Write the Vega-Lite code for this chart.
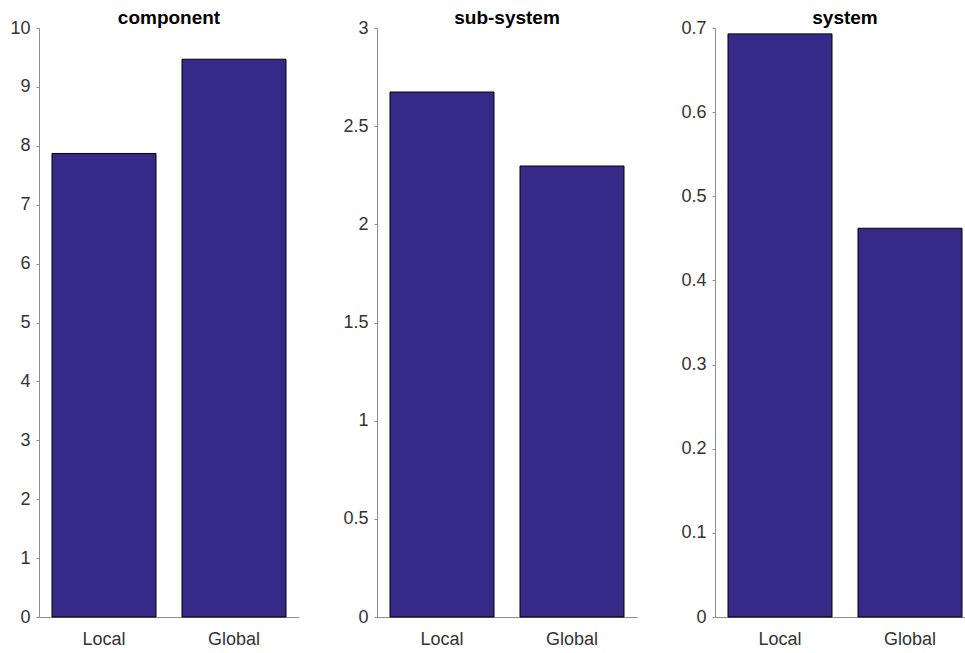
{
  "$schema": "https://vega.github.io/schema/vega-lite/v6.json",
  "padding": {"left": 9, "top": 9, "right": 0, "bottom": 5},
  "background": "white",
  "data": {"values": [
    {"panel": "component", "type": "Local", "value": 7.87},
    {"panel": "component", "type": "Global", "value": 9.47},
    {"panel": "sub-system", "type": "Local", "value": 2.674},
    {"panel": "sub-system", "type": "Global", "value": 2.297},
    {"panel": "system", "type": "Local", "value": 0.693},
    {"panel": "system", "type": "Global", "value": 0.462}
  ]},
  "bounds": "flush",
  "spacing": 78,
  "config": {
    "view": {"stroke": null},
    "font": "Liberation Sans",
    "title": {"fontSize": 19, "fontWeight": "bold", "color": "#000000", "frame": "group", "anchor": "middle", "offset": -9},
    "axis": {
      "grid": false,
      "domainColor": "#8c8c8c",
      "tickColor": "#8c8c8c",
      "tickSize": 3,
      "labelFont": "Liberation Sans",
      "labelFontSize": 18,
      "labelColor": "#333333",
      "title": null
    },
    "bar": {"fill": "#352a87", "stroke": "#000000", "strokeWidth": 1}
  },
  "hconcat": [
    {
      "title": "component",
      "width": 260, "height": 589,
      "transform": [{"filter": "datum.panel === 'component'"}],
      "mark": "bar",
      "encoding": {
        "x": {"field": "type", "type": "nominal", "sort": ["Local", "Global"], "scale": {"paddingInner": 0.2, "paddingOuter": 0.1}, "axis": {"labelAngle": 0, "labelPadding": 13, "ticks": false}},
        "y": {"field": "value", "type": "quantitative", "scale": {"domain": [0, 10], "nice": false}, "axis": {"values": [0,1,2,3,4,5,6,7,8,9,10], "labelExpr": "'' + datum.value", "labelPadding": 6}}
      }
    },
    {
      "title": "sub-system",
      "width": 260, "height": 589,
      "transform": [{"filter": "datum.panel === 'sub-system'"}],
      "mark": "bar",
      "encoding": {
        "x": {"field": "type", "type": "nominal", "sort": ["Local", "Global"], "scale": {"paddingInner": 0.2, "paddingOuter": 0.1}, "axis": {"labelAngle": 0, "labelPadding": 13, "ticks": false}},
        "y": {"field": "value", "type": "quantitative", "scale": {"domain": [0, 3], "nice": false}, "axis": {"values": [0,0.5,1,1.5,2,2.5,3], "labelExpr": "'' + datum.value", "labelPadding": 6}}
      }
    },
    {
      "title": "system",
      "width": 260, "height": 589,
      "transform": [{"filter": "datum.panel === 'system'"}],
      "mark": "bar",
      "encoding": {
        "x": {"field": "type", "type": "nominal", "sort": ["Local", "Global"], "scale": {"paddingInner": 0.2, "paddingOuter": 0.1}, "axis": {"labelAngle": 0, "labelPadding": 13, "ticks": false}},
        "y": {"field": "value", "type": "quantitative", "scale": {"domain": [0, 0.7], "nice": false}, "axis": {"values": [0,0.1,0.2,0.3,0.4,0.5,0.6,0.7], "labelExpr": "'' + datum.value", "labelPadding": 6}}
      }
    }
  ]
}
